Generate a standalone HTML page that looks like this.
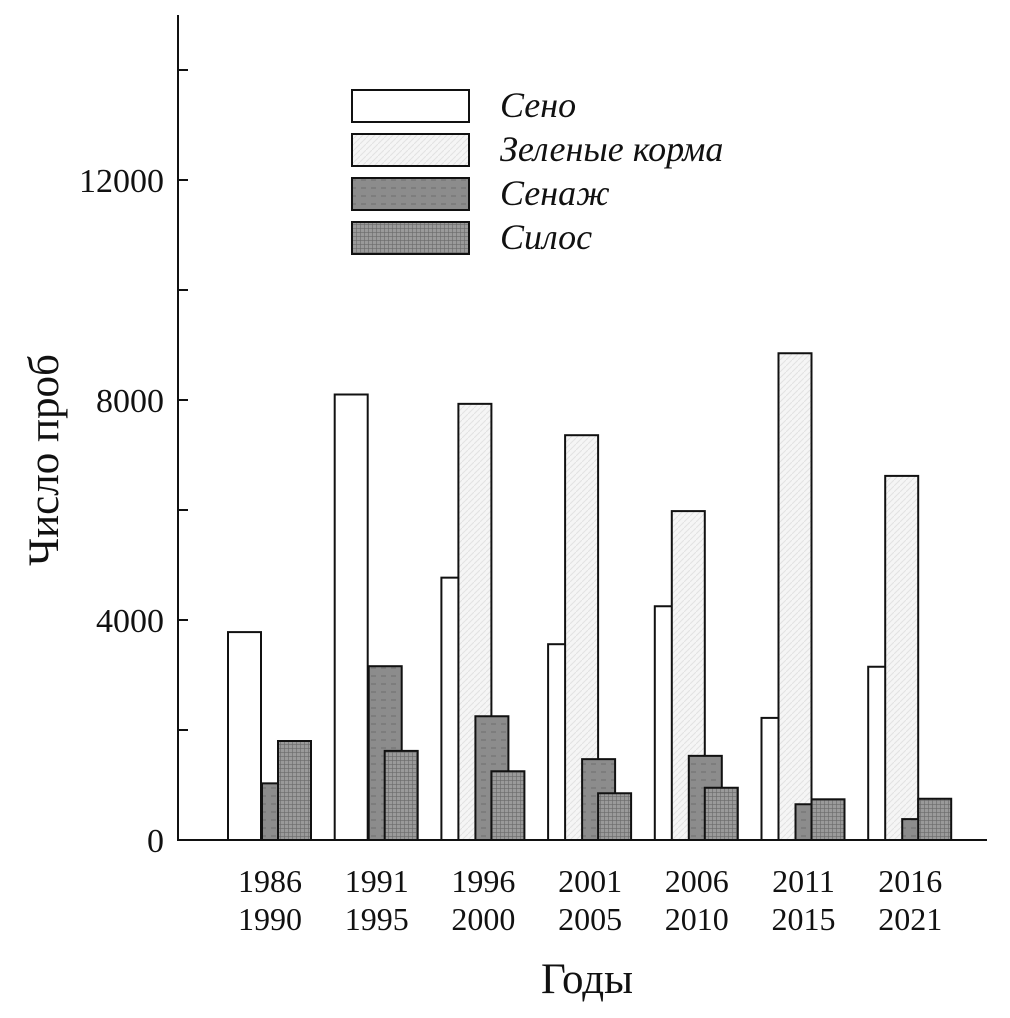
<!DOCTYPE html>
<html><head><meta charset="utf-8"><style>
html,body{margin:0;padding:0;background:#fff;}
svg text{font-family:"Liberation Serif","DejaVu Serif",serif;fill:#111;}
</style></head><body>
<svg id="chart" width="1010" height="1013" viewBox="0 0 1010 1013" xmlns="http://www.w3.org/2000/svg">
<defs>
<pattern id="pGreen" width="6" height="6" patternUnits="userSpaceOnUse"><rect width="6" height="6" fill="#f5f5f5"/><path d="M0 6L6 0" stroke="#e2e2e2" stroke-width="1"/></pattern>
<pattern id="pSenazh" width="10" height="8" patternUnits="userSpaceOnUse"><rect width="10" height="8" fill="#8c8c8c"/><path d="M1 4h5" stroke="#6e6e6e" stroke-width="1"/></pattern>
<pattern id="pSilos" width="4" height="4" patternUnits="userSpaceOnUse"><rect width="4" height="4" fill="#9a9a9a"/><path d="M0 0h4M0 0v4" stroke="#6a6a6a" stroke-width="1.2"/></pattern>
</defs>
<g id="bars"></g>
<g id="axes"></g>
<g id="legend"></g>
<text x="0" y="0" transform="translate(58,460) rotate(-90)" font-size="43" text-anchor="middle">Число проб</text>
<text x="587" y="993" font-size="43" text-anchor="middle">Годы</text>
</svg>
<script>
const categoriesTop=["1986","1991","1996","2001","2006","2011","2016"];
const categoriesBottom=["1990","1995","2000","2005","2010","2015","2021"];
const seriesNames=["Сено","Зеленые корма","Сенаж","Силос"];
const seno=[3780,8100,4770,3560,4250,2220,3150];
const zelenye=[0,0,7930,7360,5980,8850,6620];
const senazh=[1030,3160,2250,1470,1530,650,380];
const silos=[1800,1620,1250,850,950,740,750];
const yTicks=[0,4000,8000,12000];
const yMinor=[2000,6000,10000,14000];

const NS="http://www.w3.org/2000/svg";
const y0=840, pxPer=0.055;
function yScale(v){return y0-v*pxPer;}
function groupX(i){return 228+i*106.7;}
const fills=["#ffffff","url(#pGreen)","url(#pSenazh)","url(#pSilos)"];
const offs=[0,17,34,50], bw=33;
const allSeries=[seno,zelenye,senazh,silos];
const keys=["seno","zelenye","senazh","silos"];
function mk(tag,attrs,parent){const e=document.createElementNS(NS,tag);for(const k in attrs)e.setAttribute(k,attrs[k]);parent.appendChild(e);return e;}
const bars=document.getElementById('bars');
categoriesTop.forEach((c,i)=>{
  allSeries.forEach((s,si)=>{
    if(s[i]<=0)return;
    const r=mk('rect',{x:groupX(i)+offs[si],y:yScale(s[i]),width:bw,height:y0-yScale(s[i]),fill:fills[si],stroke:'#111','stroke-width':2},bars);
    
    
  });
});
const ax=document.getElementById('axes');
let l=mk('line',{x1:178,y1:15,x2:178,y2:841,stroke:'#111','stroke-width':2},ax);


l=mk('line',{x1:177,y1:840,x2:987,y2:840,stroke:'#111','stroke-width':2},ax);


yTicks.concat(yMinor).forEach(v=>{mk('line',{x1:178,y1:yScale(v),x2:188,y2:yScale(v),stroke:'#111','stroke-width':2},ax);});
yTicks.forEach(v=>{
  const t=mk('text',{x:164,y:yScale(v)+12,'font-size':34,'text-anchor':'end'},ax);
  t.textContent=String(v);
  
  
});
categoriesTop.forEach((c,i)=>{
  const cx=groupX(i)+42;
  let t=mk('text',{x:cx,y:892,'font-size':32,'text-anchor':'middle'},ax);
  t.textContent=c;
  
  
  t=mk('text',{x:cx,y:930,'font-size':32,'text-anchor':'middle'},ax);
  t.textContent=categoriesBottom[i];
  
  
});
const lg=document.getElementById('legend');
const ly=[90,134,178,222];
seriesNames.forEach((n,i)=>{
  const r=mk('rect',{x:352,y:ly[i],width:117,height:32,fill:fills[i],stroke:'#111','stroke-width':2},lg);
  
  
  const t=mk('text',{x:500,y:ly[i]+27,'font-size':36,'font-style':'italic'},lg);
  t.textContent=n;
  
  
});
</script>
</body></html>
